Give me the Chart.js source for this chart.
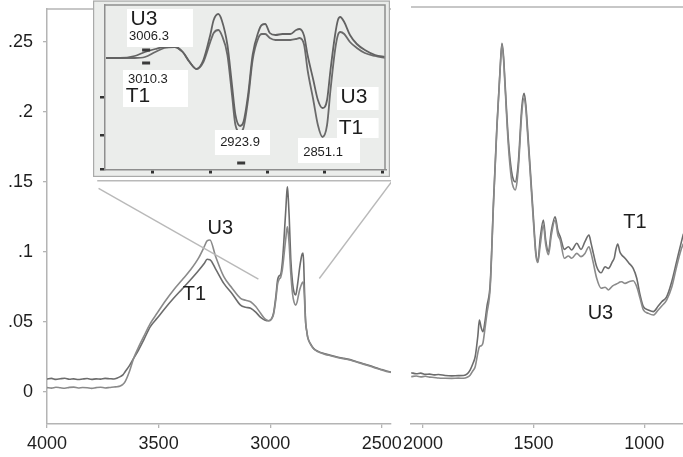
<!DOCTYPE html>
<html><head><meta charset="utf-8">
<script src="https://cdn.jsdelivr.net/npm/chart.js@4/dist/chart.umd.min.js"></script>
<style>
html,body{margin:0;padding:0;background:#fff;width:683px;height:457px;overflow:hidden}
canvas{position:absolute;left:0;top:0}
</style></head><body>
<canvas id="leftPanel" width="683" height="457"></canvas>
<canvas id="rightPanel" width="683" height="457"></canvas>
<canvas id="insetPanel" width="683" height="457"></canvas>
<script>
// ---------- data ----------
const leftWavenumbers = [4000,3980,3960,3940,3920,3900,3880,3860,3840,3820,3800,3780,3760,3740,3720,3700,3685,3672,3660,3650,3630,3612,3590,3567,3537,3507,3470,3433,3395,3358,3320,3295,3283,3270,3245,3208,3170,3133,3110,3088,3065,3043,3025,3007,2995,2985,2975,2967,2960,2953,2946,2940,2935,2930,2926,2923,2919,2915,2908,2900,2893,2886,2880,2875,2868,2862,2857,2853,2850,2847,2844,2841,2836,2832,2820,2805,2785,2760,2730,2700,2670,2639,2600,2563,2530,2500,2480,2459];
const leftT1 = [0.0093,0.0097,0.0090,0.0095,0.0098,0.0091,0.0094,0.0089,0.0093,0.0096,0.0090,0.0094,0.0092,0.0097,0.0095,0.0093,0.0100,0.0110,0.0122,0.0145,0.0190,0.0240,0.0300,0.0371,0.0467,0.0526,0.0600,0.0669,0.0735,0.0800,0.0870,0.0920,0.0948,0.0945,0.0880,0.0776,0.0700,0.0621,0.0605,0.0598,0.0570,0.0533,0.0515,0.0509,0.0520,0.0565,0.0680,0.0800,0.0830,0.0840,0.0920,0.1050,0.1180,0.1310,0.1420,0.1466,0.1380,0.1250,0.0950,0.0780,0.0710,0.0693,0.0740,0.0800,0.0890,0.0950,0.0985,0.0993,0.0920,0.0750,0.0600,0.0490,0.0430,0.0390,0.0345,0.0310,0.0290,0.0275,0.0262,0.0250,0.0240,0.0230,0.0210,0.0193,0.0175,0.0160,0.0150,0.0143];
const leftU3 = [0.0031,0.0028,0.0034,0.0030,0.0027,0.0033,0.0035,0.0029,0.0032,0.0030,0.0026,0.0031,0.0034,0.0029,0.0032,0.0036,0.0038,0.0043,0.0055,0.0074,0.0150,0.0240,0.0320,0.0395,0.0490,0.0562,0.0650,0.0729,0.0800,0.0871,0.0960,0.1040,0.1080,0.1086,0.0970,0.0824,0.0740,0.0669,0.0655,0.0645,0.0610,0.0562,0.0525,0.0509,0.0520,0.0555,0.0660,0.0770,0.0805,0.0820,0.0870,0.0950,0.1030,0.1100,0.1160,0.1180,0.1130,0.1050,0.0850,0.0700,0.0640,0.0620,0.0640,0.0680,0.0730,0.0760,0.0780,0.0786,0.0760,0.0680,0.0570,0.0490,0.0430,0.0390,0.0342,0.0307,0.0287,0.0272,0.0259,0.0247,0.0237,0.0227,0.0207,0.0190,0.0172,0.0157,0.0147,0.0140];

const rightWavenumbers = [2053,2030,2010,1990,1970,1950,1930,1900,1870,1840,1817,1800,1787,1775,1764,1752,1745,1737,1729,1720,1711,1696,1681,1666,1651,1643,1636,1629,1614,1600,1591,1583,1575,1568,1553,1543,1535,1528,1516,1501,1490,1481,1470,1456,1445,1433,1420,1403,1390,1380,1361,1343,1328,1305,1286,1268,1250,1240,1230,1215,1195,1177,1162,1144,1135,1128,1120,1110,1102,1087,1069,1050,1034,1019,1004,982,959,937,921,899,876,854,834,823];
const rightT1 = [0.0138,0.0130,0.0135,0.0126,0.0128,0.0122,0.0125,0.0118,0.0115,0.0117,0.0118,0.0130,0.0157,0.0200,0.0252,0.0400,0.0514,0.0460,0.0430,0.0500,0.0610,0.0776,0.1370,0.1895,0.2320,0.2490,0.2400,0.2205,0.1800,0.1580,0.1514,0.1500,0.1550,0.1660,0.2040,0.2133,0.2050,0.1895,0.1610,0.1250,0.1000,0.0931,0.1100,0.1229,0.1080,0.1002,0.1150,0.1252,0.1150,0.1110,0.1019,0.1038,0.1014,0.1062,0.1019,0.1074,0.1121,0.1060,0.0990,0.0895,0.0852,0.0895,0.0883,0.0931,0.0960,0.1020,0.1057,0.1000,0.0979,0.0955,0.0920,0.0883,0.0812,0.0693,0.0609,0.0586,0.0574,0.0614,0.0645,0.0680,0.0788,0.0931,0.1062,0.1130];
const rightU3 = [0.0110,0.0114,0.0108,0.0112,0.0106,0.0104,0.0100,0.0098,0.0097,0.0099,0.0098,0.0105,0.0120,0.0150,0.0180,0.0280,0.0324,0.0330,0.0350,0.0450,0.0560,0.0750,0.1350,0.1880,0.2310,0.2480,0.2380,0.2180,0.1760,0.1520,0.1460,0.1443,0.1500,0.1620,0.2000,0.2100,0.2020,0.1860,0.1580,0.1220,0.0980,0.0925,0.1050,0.1190,0.1050,0.0980,0.1120,0.1229,0.1120,0.1086,0.0955,0.0971,0.0955,0.0990,0.0967,0.0990,0.1038,0.0990,0.0920,0.0812,0.0741,0.0748,0.0729,0.0757,0.0765,0.0770,0.0776,0.0785,0.0788,0.0776,0.0788,0.0795,0.0752,0.0669,0.0586,0.0562,0.0550,0.0586,0.0614,0.0657,0.0748,0.0895,0.1014,0.1060];

const insetWavenumbers = [3041,3029,3016,3007,2998,2990,2981,2974,2968,2962,2956,2950,2947,2943,2940,2935,2931,2928,2924,2921,2917,2913,2908,2905,2902,2898,2893,2887,2880,2875,2872,2868,2865,2860,2856,2852,2848,2845,2841,2838.5,2836.5,2833,2828,2822,2815,2806,2797];
const insetU3 = [0,0,2,6,9,11,11,6,-4,-11,-2,23,38,44,38,13,-27,-57,-68,-64,-37,3,26,33,34,25,23,24,24,28,29,22,3,-22,-42,-50,-42,-12,23,38,41,36,23,14,8,3,1];
const insetT1 = [0,0,0,1,6,10,11,6,-4,-11,-4,16,25,28,23,3,-37,-67,-74,-70,-42,-2,20,24,24,20,18,18,18,19,20,13,-12,-42,-67,-79,-67,-32,8,23,26,24,16,10,5,2,0];

const yTicks = [0, 0.05, 0.1, 0.15, 0.2, 0.25];
const leftXTicks = [4000, 3500, 3000, 2500];
const rightXTicks = [2000, 1500, 1000];
const insetXTicks = [3000, 2950, 2900, 2850, 2800];
const insetYTicks = [-111.5, -77, -39];

// zoom call-out lines (data coordinates of the left panel)
const calloutTopX = [3775, 2459];    const calloutTopY = [0.1509, 0.1509];
const calloutLeftX = [3769, 3053];   const calloutLeftY = [0.1455, 0.0807];
const calloutRightX = [2457, 2780];  const calloutRightY = [0.1500, 0.0811];

// series annotations
const leftLabelText = ['U3', 'T1'];   const leftLabelX = [3224, 3340];  const leftLabelY = [0.1168, 0.0696];
const rightLabelText = ['T1', 'U3'];  const rightLabelX = [1042, 1198]; const rightLabelY = [0.1214, 0.0561];

// inset annotations
const insetBoxX1 = [3022.7, 3026.2, 2945.9, 2839.3, 2839.3, 2873.4];
const insetBoxX2 = [2965.1, 2969.4, 2897.8, 2803.0, 2803.0, 2819.2];
const insetBoxY1 = [49, -12, -72, -29, -60, -80];
const insetBoxY2 = [11, -49, -97, -52, -80, -105];
const insetTextStr = ['U3', '3006.3', '3010.3', 'T1', '2923.9', 'U3', 'T1', '2851.1'];
const insetTextX = [3007.9, 3003.5, 3004.4, 3013.1, 2924, 2824.5, 2827.1, 2851.5];
const insetTextY = [39, 22, -21, -38, -84, -39, -70, -94];
const insetTextSize = [21, 13, 13, 21, 13, 21, 21, 13];
const insetMarkX = [3006, 3006, 2923];
const insetMarkY = [8, -5, -105];

// ---------- helpers ----------
const FONT = "'Liberation Sans', Arial, Helvetica, sans-serif";
const AXIS = '#b4b4b4';
const pts = (xs, ys) => xs.map((x, i) => ({x: x, y: ys[i]}));
const noPad = s => { s.paddingTop = 0; s.paddingBottom = 0; s.paddingLeft = 0; s.paddingRight = 0; };
const fmtY = v => v === 0 ? '0' : String(+v.toFixed(2)).replace(/^0\./, '.');

function curve(label, xs, ys, color, w) {
  return {label, data: pts(xs, ys), borderColor: color, borderWidth: w, pointRadius: 0,
          fill: false, cubicInterpolationMode: 'monotone'};
}
function seg(xs, ys) {
  return {data: pts(xs, ys), borderColor: '#b9b9b9', borderWidth: 1.4, pointRadius: 0, fill: false, tension: 0};
}
const topBorder = {
  id: 'topBorder',
  afterDraw(chart) {
    const a = chart.chartArea, c = chart.ctx;
    c.save(); c.strokeStyle = AXIS; c.lineWidth = 1.5;
    c.beginPath(); c.moveTo(a.left, a.top); c.lineTo(a.right, a.top); c.stroke(); c.restore();
  }
};
function textPlugin(texts, xs, ys) {
  return {
    id: 'seriesText',
    afterDatasetsDraw(chart) {
      const c = chart.ctx, sx = chart.scales.x, sy = chart.scales.y;
      c.save(); c.fillStyle = '#1e1e1e'; c.font = '20px ' + FONT;
      c.textAlign = 'center'; c.textBaseline = 'middle';
      texts.forEach((t, i) => c.fillText(t, sx.getPixelForValue(xs[i]), sy.getPixelForValue(ys[i])));
      c.restore();
    }
  };
}
const baseOpts = {
  responsive: false, animation: false, devicePixelRatio: 1, events: [],
  plugins: {legend: {display: false}, tooltip: {enabled: false}}
};
const tickFont = {family: FONT, size: 18};

// ---------- left panel ----------
new Chart(document.getElementById('leftPanel'), {
  type: 'line',
  data: {datasets: [
    seg(calloutTopX, calloutTopY), seg(calloutLeftX, calloutLeftY), seg(calloutRightX, calloutRightY),
    curve('U3', leftWavenumbers, leftU3, '#8a8a8a', 1.6),
    curve('T1', leftWavenumbers, leftT1, '#6c6c6c', 1.6)
  ]},
  options: Object.assign({}, baseOpts, {
    layout: {padding: {left: 0, right: 292, top: 9, bottom: 0}},
    scales: {
      x: {type: 'linear', reverse: true, min: 2459, max: 4000,
          afterBuildTicks: s => { s.ticks = leftXTicks.map(v => ({value: v})); },
          afterFit: s => { s.height = 33; noPad(s); },
          ticks: {font: tickFont, color: '#1e1e1e', padding: 5, maxRotation: 0, callback: v => String(v)},
          grid: {drawOnChartArea: false, drawTicks: true, tickLength: 4, color: AXIS, lineWidth: 1.3},
          border: {color: AXIS, width: 1.5}},
      y: {type: 'linear', min: -0.02286, max: 0.27357,
          afterBuildTicks: s => { s.ticks = yTicks.map(v => ({value: v})); },
          afterFit: s => { s.width = 47; noPad(s); },
          ticks: {font: tickFont, color: '#1e1e1e', padding: 10, callback: fmtY},
          grid: {drawOnChartArea: false, drawTicks: true, tickLength: 4, color: AXIS, lineWidth: 1.3},
          border: {color: AXIS, width: 1.5}}
    }
  }),
  plugins: [topBorder, textPlugin(leftLabelText, leftLabelX, leftLabelY)]
});

// ---------- right panel ----------
new Chart(document.getElementById('rightPanel'), {
  type: 'line',
  data: {datasets: [
    curve('U3', rightWavenumbers, rightU3, '#8a8a8a', 1.6),
    curve('T1', rightWavenumbers, rightT1, '#6c6c6c', 1.6)
  ]},
  options: Object.assign({}, baseOpts, {
    layout: {padding: {left: 411, right: 0, top: 7, bottom: 0}},
    scales: {
      x: {type: 'linear', reverse: true, min: 825, max: 2054,
          afterBuildTicks: s => { s.ticks = rightXTicks.map(v => ({value: v})); },
          afterFit: s => { s.height = 33; noPad(s); },
          ticks: {font: tickFont, color: '#1e1e1e', padding: 5, maxRotation: 0, callback: v => String(v)},
          grid: {drawOnChartArea: false, drawTicks: true, tickLength: 4, color: AXIS, lineWidth: 1.3},
          border: {color: AXIS, width: 1.5}},
      y: {type: 'linear', display: false, min: -0.02286, max: 0.275}
    }
  }),
  plugins: [topBorder, textPlugin(rightLabelText, rightLabelX, rightLabelY)]
});

// ---------- inset ----------
const insetDecor = {
  id: 'insetDecor',
  beforeDraw(chart) {
    const a = chart.chartArea, c = chart.ctx;
    const l = a.left - 12, t = a.top - 4.5, r = a.right + 5, b = a.bottom + 7.5;
    c.save();
    c.fillStyle = '#ebedeb'; c.fillRect(l, t, r - l, b - t);
    c.strokeStyle = '#a9aaa9'; c.lineWidth = 1.2; c.strokeRect(l + 0.6, t + 0.6, r - l - 1.2, b - t - 1.2);
    c.restore();
  },
  afterDatasetsDraw(chart) {
    const a = chart.chartArea, c = chart.ctx, sx = chart.scales.x, sy = chart.scales.y;
    c.save();
    c.fillStyle = '#ffffff';
    insetBoxX1.forEach((x1, i) => {
      const px1 = sx.getPixelForValue(x1), px2 = sx.getPixelForValue(insetBoxX2[i]);
      const py1 = sy.getPixelForValue(insetBoxY1[i]), py2 = sy.getPixelForValue(insetBoxY2[i]);
      c.fillRect(px1, py1, px2 - px1, py2 - py1);
    });
    c.fillStyle = '#1e1e1e'; c.textAlign = 'center'; c.textBaseline = 'middle';
    insetTextStr.forEach((t, i) => {
      c.font = insetTextSize[i] + 'px ' + FONT;
      c.fillText(t, sx.getPixelForValue(insetTextX[i]), sy.getPixelForValue(insetTextY[i]));
    });
    c.fillStyle = '#3a3a3a';
    insetMarkX.forEach((x, i) => {
      c.fillRect(sx.getPixelForValue(x) - 4, sy.getPixelForValue(insetMarkY[i]) - 1.5, 8, 3);
    });
    c.strokeStyle = '#8e8e8e'; c.lineWidth = 1.5;
    c.beginPath(); c.moveTo(a.left, a.top); c.lineTo(a.right, a.top); c.lineTo(a.right, a.bottom); c.stroke();
    c.restore();
  }
};
new Chart(document.getElementById('insetPanel'), {
  type: 'line',
  data: {datasets: [
    curve('U3', insetWavenumbers, insetU3, '#626262', 1.8),
    curve('T1', insetWavenumbers, insetT1, '#6a6a6a', 1.8)
  ]},
  options: Object.assign({}, baseOpts, {
    layout: {padding: {left: 93, right: 298, top: 5, bottom: 280}},
    scales: {
      x: {type: 'linear', reverse: true, min: 2797.4, max: 3041.9,
          afterBuildTicks: s => { s.ticks = insetXTicks.map(v => ({value: v})); },
          afterFit: s => { s.height = 7.5; noPad(s); },
          ticks: {display: false},
          grid: {drawOnChartArea: false, drawTicks: true, tickLength: 4, color: '#333', lineWidth: 3},
          border: {color: '#8e8e8e', width: 1.5}},
      y: {type: 'linear', min: -111.5, max: 53,
          afterBuildTicks: s => { s.ticks = insetYTicks.map(v => ({value: v})); },
          afterFit: s => { s.width = 12; noPad(s); },
          ticks: {display: false},
          grid: {drawOnChartArea: false, drawTicks: true, tickLength: 5, color: '#333', lineWidth: 2.5},
          border: {color: '#8e8e8e', width: 1.5}}
    }
  }),
  plugins: [insetDecor]
});
</script>
</body></html>
